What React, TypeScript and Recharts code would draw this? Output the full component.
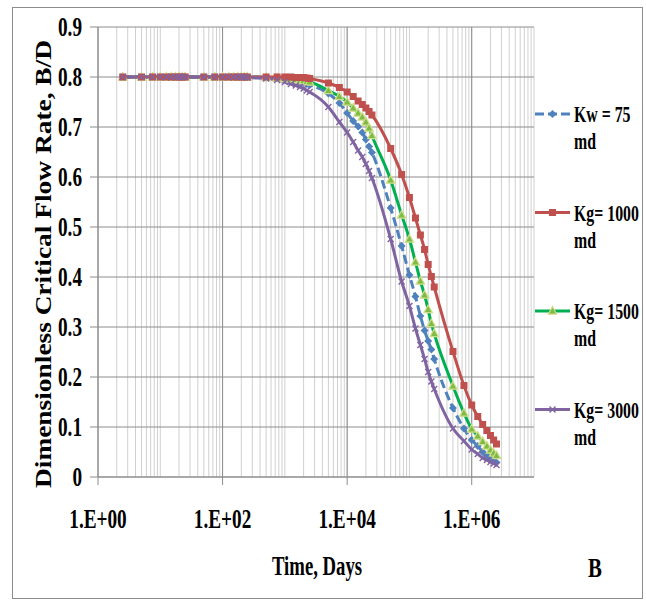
import { CartesianGrid, Label, Legend, Line, LineChart, XAxis, YAxis } from "recharts";

// ─── data ─────────────────────────────────────────────────────
const TIME_DAYS = [
  2.5, 5, 7.5, 10, 12.5, 15, 17.5, 20, 22.5,
  25, 50, 75, 100, 125, 150, 175, 200, 225,
  250, 500, 750, 1000, 1250, 1500, 1750, 2000, 2250,
  2500, 5000, 7500, 10000, 12500, 15000, 17500, 20000, 22500,
  25000, 50000, 75000, 100000, 125000, 150000, 175000, 200000, 225000,
  250000, 500000, 750000, 1000000, 1250000, 1500000, 1750000, 2000000, 2250000,
  2500000,
];

const KW_75 = [
  0.8, 0.8, 0.8, 0.8, 0.8, 0.8, 0.8, 0.8, 0.8,
  0.8, 0.8, 0.8, 0.8, 0.8, 0.8, 0.8, 0.8, 0.8,
  0.8, 0.799, 0.798, 0.795, 0.793, 0.791, 0.79, 0.788, 0.786,
  0.784, 0.767, 0.748, 0.728, 0.712, 0.701, 0.689, 0.675, 0.661,
  0.649, 0.538, 0.462, 0.404, 0.361, 0.322, 0.293, 0.272, 0.255,
  0.236, 0.138, 0.097, 0.074, 0.062, 0.05, 0.043, 0.038, 0.033,
  0.029,
];

const KG_1000 = [
  0.8, 0.8, 0.8, 0.8, 0.8, 0.8, 0.8, 0.8, 0.8,
  0.8, 0.8, 0.8, 0.8, 0.8, 0.8, 0.8, 0.8, 0.8,
  0.8, 0.8, 0.8, 0.8, 0.8, 0.799, 0.799, 0.799, 0.798,
  0.797, 0.788, 0.779, 0.77, 0.761, 0.752, 0.745, 0.738, 0.731,
  0.724, 0.657, 0.605, 0.559, 0.518, 0.484, 0.455, 0.425, 0.401,
  0.38, 0.251, 0.183, 0.144, 0.121, 0.105, 0.093, 0.083, 0.074,
  0.066,
];

const KG_1500 = [
  0.8, 0.8, 0.8, 0.8, 0.8, 0.8, 0.8, 0.8, 0.8,
  0.8, 0.8, 0.8, 0.8, 0.8, 0.8, 0.8, 0.8, 0.8,
  0.8, 0.799, 0.798, 0.797, 0.796, 0.795, 0.794, 0.793, 0.791,
  0.79, 0.773, 0.761, 0.75, 0.738, 0.728, 0.72, 0.71, 0.698,
  0.683, 0.594, 0.524, 0.476, 0.43, 0.392, 0.364, 0.335, 0.307,
  0.287, 0.182, 0.128, 0.096, 0.082, 0.071, 0.062, 0.054, 0.048,
  0.043,
];

const KG_3000 = [
  0.8, 0.8, 0.8, 0.8, 0.8, 0.8, 0.8, 0.8, 0.8,
  0.8, 0.8, 0.8, 0.8, 0.8, 0.8, 0.8, 0.8, 0.8,
  0.799, 0.797, 0.794, 0.79, 0.786, 0.783, 0.78, 0.777, 0.773,
  0.77, 0.74, 0.71, 0.689, 0.67, 0.653, 0.64, 0.626, 0.612,
  0.598, 0.476, 0.391, 0.342, 0.297, 0.264, 0.236, 0.21, 0.191,
  0.176, 0.097, 0.072, 0.055, 0.046, 0.038, 0.034, 0.03, 0.027,
  0.024,
];

const X_TICKS = [1, 100, 10000, 1000000];
const X_TICK_LABELS = ["1.E+00", "1.E+02", "1.E+04", "1.E+06"];
const Y_TICKS = [0, 0.1, 0.2, 0.3, 0.4, 0.5, 0.6, 0.7, 0.8, 0.9];
const SERIES_NAMES = ["Kw = 75", "Kg= 1000", "Kg= 1500", "Kg= 3000"];

// minor log gridlines 2..10 x 10^d
const X_MINOR: number[] = [];
for (let d = 0; d < 7; d++) {
  for (let m = 2; m <= 10; m++) X_MINOR.push(m * Math.pow(10, d));
}

const DATA = TIME_DAYS.map((t, i) => ({
  t,
  kw75: KW_75[i],
  kg1000: KG_1000[i],
  kg1500: KG_1500[i],
  kg3000: KG_3000[i],
}));

const FONT = "'Liberation Serif', 'Times New Roman', serif";
const BLUE = "#4F81BD";
const RED = "#C0504D";
const GREEN = "#00B050";
const PURPLE = "#8064A2";

// ─── markers ──────────────────────────────────────────────────
function Diamond({ cx, cy }: any) {
  return <polygon points={`${cx},${cy - 4} ${cx + 4},${cy} ${cx},${cy + 4} ${cx - 4},${cy}`} fill={BLUE} />;
}
function Square({ cx, cy }: any) {
  return <rect x={cx - 3.5} y={cy - 3.5} width={7} height={7} fill={RED} />;
}
function Triangle({ cx, cy }: any) {
  return (
    <polygon
      points={`${cx},${cy - 4.5} ${cx + 4.2},${cy + 3.2} ${cx - 4.2},${cy + 3.2}`}
      fill="#7DBB45"
      stroke="#CFDE8A"
      strokeWidth={1.2}
    />
  );
}
function Cross({ cx, cy }: any) {
  return (
    <g stroke={PURPLE} strokeWidth={1.4}>
      <line x1={cx - 3} y1={cy - 3} x2={cx + 3} y2={cy + 3} />
      <line x1={cx - 3} y1={cy + 3} x2={cx + 3} y2={cy - 3} />
    </g>
  );
}

const MARKERS = [Diamond, Square, Triangle, Cross];
const COLORS = [BLUE, RED, GREEN, PURPLE];

// ─── ticks and titles ─────────────────────────────────────────
function XTick({ x, y, payload }: any) {
  const label = X_TICK_LABELS[X_TICKS.indexOf(payload.value)] ?? "";
  return (
    <g transform={`translate(${x},${y + 43})`}>
      <text transform="scale(0.74,1.05)" textAnchor="middle" fontFamily={FONT} fontWeight="bold" fontSize={26} fill="#000">
        {label}
      </text>
    </g>
  );
}

function YTick({ x, y, payload }: any) {
  return (
    <g transform={`translate(${x},${y + 9})`}>
      <text transform="scale(0.74,1.05)" textAnchor="end" fontFamily={FONT} fontWeight="bold" fontSize={26} fill="#000">
        {String(payload.value)}
      </text>
    </g>
  );
}

function XTitle({ viewBox }: any) {
  const cx = viewBox.x + viewBox.width / 2;
  return (
    <g fontFamily={FONT} fontWeight="bold" fill="#000">
      <g transform={`translate(${cx + 1},${viewBox.y + 98})`}>
        <text transform="scale(0.72,1.05)" textAnchor="middle" fontSize={26}>
          Time, Days
        </text>
      </g>
      <g transform={`translate(${viewBox.x + viewBox.width + 61},${viewBox.y + 100})`}>
        <text transform="scale(0.8,1.05)" textAnchor="middle" fontSize={26}>
          B
        </text>
      </g>
    </g>
  );
}

function YTitle({ viewBox }: any) {
  return (
    <g transform={`translate(${viewBox.x + 13},264) scale(0.86,1) rotate(-90)`}>
      <text textAnchor="middle" fontFamily={FONT} fontWeight="bold" fontSize={28} fill="#000" textLength={448} lengthAdjust="spacingAndGlyphs">
        Dimensionless Critical Flow Rate, B/D
      </text>
    </g>
  );
}

function LegendBox() {
  return (
    <svg width={112} height={340} style={{ overflow: "visible" }}>
      {SERIES_NAMES.map((name, i) => {
        const cy = 24 + i * 98.5;
        const Marker = MARKERS[i];
        return (
          <g key={name}>
            <line x1={2} y1={cy} x2={37} y2={cy} stroke={COLORS[i]} strokeWidth={3} strokeDasharray={i === 0 ? "9 4" : undefined} />
            <Marker cx={19.5} cy={cy} />
            <g fontFamily={FONT} fontWeight="bold" fontSize={22} fill="#000">
              <g transform={`translate(41,${cy + 8})`}>
                <text transform="scale(0.72,1.08)">{name}</text>
              </g>
              <g transform={`translate(41,${cy + 35})`}>
                <text transform="scale(0.72,1.08)">md</text>
              </g>
            </g>
          </g>
        );
      })}
    </svg>
  );
}

export default function App() {
  return (
    <div style={{ position: "absolute", left: 0, top: 0, width: 646, height: 604, background: "#fff" }}>
      <div
        style={{
          position: "absolute",
          left: 12,
          top: 7,
          width: 631,
          height: 592,
          border: "1px solid #8c8c8c",
          boxSizing: "border-box",
        }}
      />
      <LineChart
        width={646}
        height={604}
        data={DATA}
        margin={{ top: 27, right: 112, bottom: 87, left: 38 }}
        style={{ position: "absolute", left: 0, top: 0 }}
      >
        <CartesianGrid horizontal={false} verticalValues={X_MINOR} stroke="#d0d0d0" strokeWidth={1} />
        <CartesianGrid verticalValues={X_TICKS} stroke="#8c8c8c" strokeWidth={1} />
        <XAxis
          dataKey="t"
          type="number"
          scale="log"
          domain={[1, 10000000]}
          ticks={X_TICKS}
          interval={0}
          height={40}
          tickSize={8}
          tickMargin={0}
          tick={<XTick />}
          axisLine={{ stroke: "#8c8c8c" }}
          tickLine={{ stroke: "#8c8c8c" }}
          allowDataOverflow
        >
          <Label content={<XTitle />} />
        </XAxis>
        <YAxis
          type="number"
          domain={[0, 0.9]}
          ticks={Y_TICKS}
          interval={0}
          width={60}
          tickSize={8}
          tickMargin={8}
          tick={<YTick />}
          axisLine={{ stroke: "#8c8c8c" }}
          tickLine={{ stroke: "#8c8c8c" }}
        >
          <Label content={<YTitle />} />
        </YAxis>
        <Legend
          layout="vertical"
          align="center"
          verticalAlign="middle"
          wrapperStyle={{ left: 533, top: 90, width: 112, height: 340 }}
          content={<LegendBox />}
        />
        <Line
          dataKey="kw75"
          stroke={BLUE}
          strokeWidth={3}
          strokeDasharray="9 4"
          type="monotone"
          dot={(p: any) => <Diamond key={`kw-${p.index}`} cx={p.cx} cy={p.cy} />}
          activeDot={false}
          isAnimationActive={false}
        />
        <Line
          dataKey="kg1500"
          stroke={GREEN}
          strokeWidth={3}
          type="monotone"
          dot={(p: any) => <Triangle key={`k15-${p.index}`} cx={p.cx} cy={p.cy} />}
          activeDot={false}
          isAnimationActive={false}
        />
        <Line
          dataKey="kg1000"
          stroke={RED}
          strokeWidth={3}
          type="monotone"
          dot={(p: any) => <Square key={`k1-${p.index}`} cx={p.cx} cy={p.cy} />}
          activeDot={false}
          isAnimationActive={false}
        />
        <Line
          dataKey="kg3000"
          stroke={PURPLE}
          strokeWidth={3}
          type="monotone"
          dot={(p: any) => <Cross key={`k3-${p.index}`} cx={p.cx} cy={p.cy} />}
          activeDot={false}
          isAnimationActive={false}
        />
      </LineChart>
    </div>
  );
}
